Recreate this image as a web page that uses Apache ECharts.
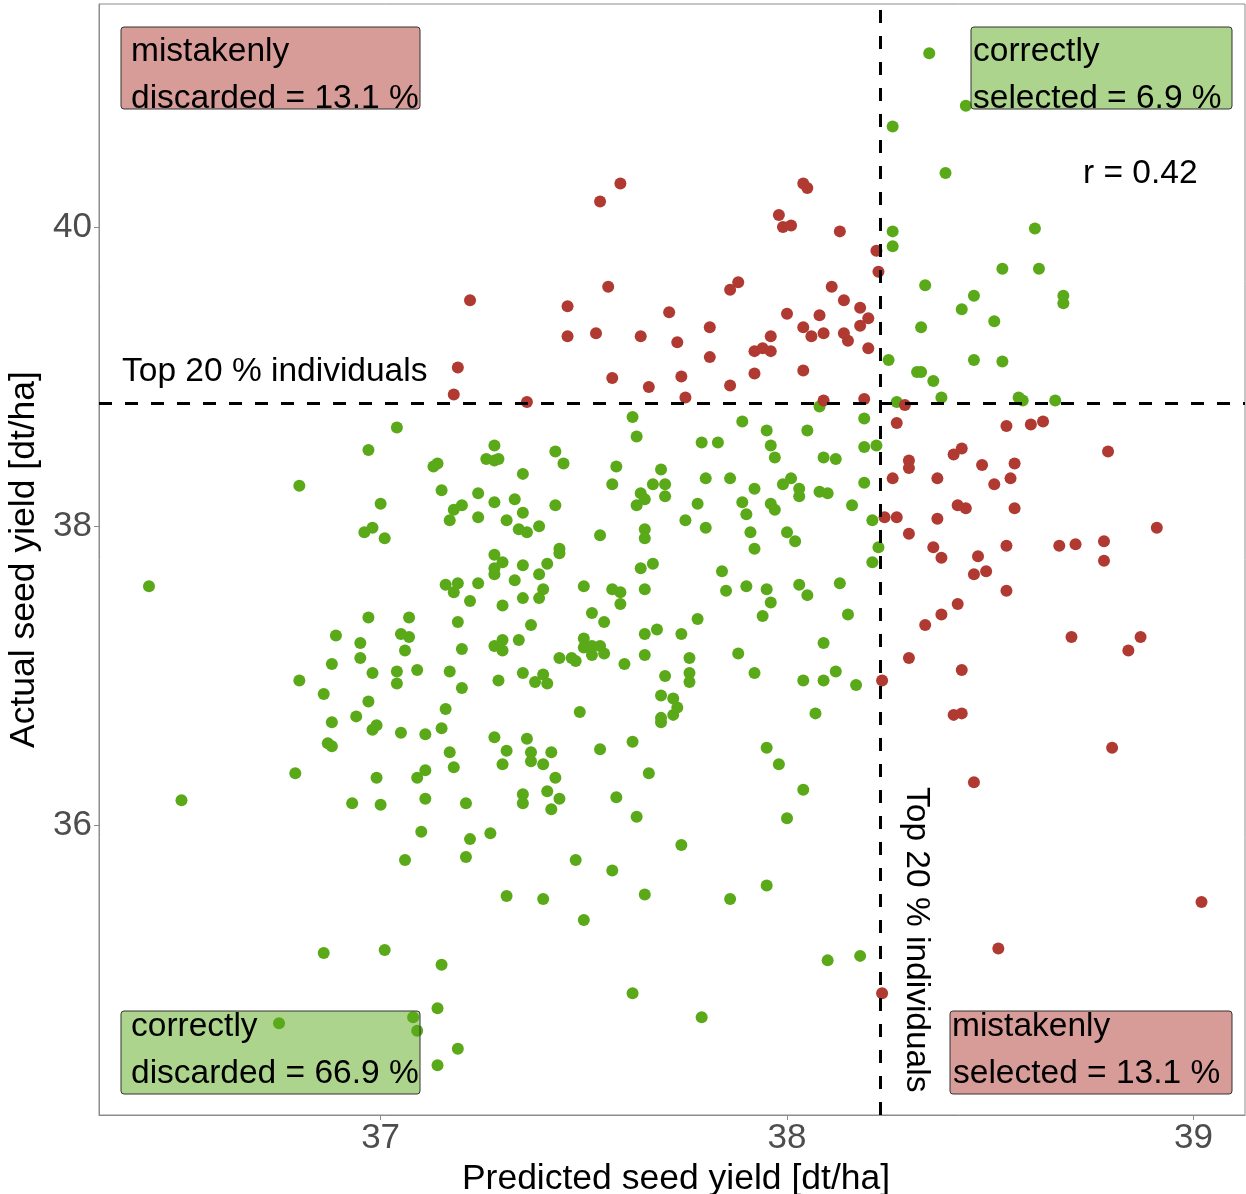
<!DOCTYPE html>
<html>
<head>
<meta charset="UTF-8">
<title>Predicted vs actual seed yield</title>
<script src="https://cdn.jsdelivr.net/npm/echarts@6.0.0/dist/echarts.min.js"></script>
<style>
	body { margin: 0; background: #fff; }
	#chart { width: 1246px; height: 1194px; }
</style>
</head>
<body>
	<div id="chart"></div>
	<script>
	// [predicted, actual] seed yield (dt/ha), grouped by selection outcome
	var mistakenlyDiscarded = [
		[37.59,40.29],[37.54,40.17],[37.56,39.60],[37.22,39.51],[37.46,39.47],[37.71,39.43],[37.46,39.27],[37.53,39.29],
		[37.64,39.27],[37.73,39.23],[37.19,39.06],[37.57,38.99],[37.74,39.00],[38.04,40.29],[38.05,40.26],[37.98,40.08],
		[37.99,40.00],[38.01,40.01],[38.13,39.97],[38.22,39.84],[38.225,39.70],[37.88,39.63],[37.86,39.58],[38.11,39.60],
		[38.14,39.51],[38.00,39.42],[38.08,39.41],[38.18,39.46],[38.20,39.39],[37.81,39.33],[38.04,39.33],[38.06,39.27],
		[38.09,39.29],[38.14,39.29],[38.15,39.24],[38.18,39.34],[37.96,39.27],[37.94,39.19],[37.96,39.17],[37.92,39.17],
		[37.81,39.13],[38.20,39.19],[37.92,39.02],[38.04,39.04],[37.18,38.88],[37.36,38.83],[37.66,38.93],[37.75,38.86],
		[37.86,38.94],[38.09,38.84],[38.19,38.85]
	];
	var mistakenlySelected = [
		[38.29,38.81],[38.27,38.69],[38.30,38.44],[38.30,38.39],[38.43,38.52],[38.41,38.48],[38.26,38.32],[38.37,38.32],
		[38.42,38.14],[38.44,38.12],[38.24,38.06],[38.27,38.06],[38.37,38.05],[38.30,37.95],[38.36,37.86],[38.38,37.79],
		[38.42,37.48],[38.38,37.41],[38.34,37.34],[38.30,37.12],[38.43,37.04],[38.234,36.97],[38.41,36.74],[38.43,36.75],
		[38.234,34.88],[38.54,38.67],[38.60,38.68],[38.63,38.70],[38.79,38.50],[38.48,38.41],[38.56,38.42],[38.51,38.28],
		[38.55,38.32],[38.56,38.12],[38.91,37.99],[38.54,37.87],[38.67,37.87],[38.71,37.88],[38.78,37.90],[38.78,37.77],
		[38.47,37.80],[38.46,37.68],[38.49,37.70],[38.54,37.57],[38.70,37.26],[38.87,37.26],[38.84,37.17],[38.80,36.52],
		[38.46,36.29],[39.02,35.49],[38.52,35.18]
	];
	var correctlySelected = [
		[38.35,41.16],[38.44,40.81],[38.26,40.67],[38.39,40.36],[38.26,39.97],[38.26,39.87],[38.34,39.61],[38.43,39.45],
		[38.33,39.33],[38.25,39.11],[38.46,39.11],[38.32,39.03],[38.33,39.03],[38.36,38.97],[38.61,39.99],[38.53,39.72],
		[38.62,39.72],[38.46,39.54],[38.68,39.54],[38.68,39.49],[38.51,39.37],[38.53,39.10],[38.38,38.86],[38.27,38.83],
		[38.57,38.86],[38.58,38.84],[38.66,38.84]
	];
	var correctlyDiscarded = [
		[38.08,38.80],[38.19,38.72],[37.89,38.70],[37.95,38.64],[38.05,38.64],[37.79,38.56],[37.83,38.56],[37.96,38.54],
		[37.97,38.46],[38.09,38.46],[38.12,38.45],[38.19,38.53],[38.22,38.54],[37.80,38.32],[37.86,38.32],[37.92,38.25],
		[37.99,38.28],[38.01,38.32],[38.03,38.25],[38.03,38.20],[38.08,38.23],[38.10,38.22],[38.19,38.29],[37.78,38.15],
		[37.89,38.16],[37.90,38.08],[37.96,38.15],[37.97,38.11],[38.16,38.14],[37.75,38.04],[37.80,37.99],[38.21,38.04],
		[37.91,37.96],[38.00,37.96],[38.02,37.90],[37.92,37.85],[38.225,37.86],[38.21,37.76],[37.84,37.70],[37.85,37.57],
		[37.90,37.60],[37.95,37.58],[37.96,37.49],[38.03,37.61],[38.05,37.54],[38.13,37.62],[37.94,37.40],[38.15,37.41],
		[37.78,37.38],[37.74,37.28],[38.09,37.22],[37.88,37.15],[37.76,37.12],[37.76,37.02],[37.76,36.96],[37.92,37.02],
		[38.04,36.97],[38.09,36.97],[38.12,37.03],[38.17,36.94],[38.07,36.75],[37.95,36.52],[37.98,36.41],[38.04,36.24],
		[38.00,36.05],[37.74,35.87],[37.95,35.60],[37.86,35.51],[38.10,35.10],[38.18,35.13],[37.79,34.72],
		[37.17,36.49],[37.31,36.50],[37.37,36.49],[37.42,36.49],[37.54,36.51],[37.30,36.41],[37.37,36.43],[37.40,36.41],
		[37.18,36.39],[37.11,36.37],[37.09,36.32],[37.43,36.32],[37.66,36.35],[37.11,36.18],[37.21,36.15],[37.35,36.21],
		[37.35,36.15],[37.41,36.23],[37.44,36.18],[37.42,36.11],[37.58,36.19],[37.63,36.06],[37.10,35.96],[37.22,35.91],
		[37.27,35.95],[37.06,35.77],[37.21,35.79],[37.48,35.77],[37.57,35.70],[37.31,35.53],[37.40,35.51],[37.65,35.54],
		[37.50,35.37],[37.01,35.17],[37.15,35.07],[37.62,34.88],[37.14,34.78],[37.08,34.72],[37.09,34.63],[37.19,34.51],
		[37.14,34.40],
		[36.79,36.35],[36.99,36.32],[36.51,36.17],[36.93,36.15],[37.00,36.14],[36.86,35.15],[36.75,34.68],
		[36.97,38.51],[36.80,38.27],[37.00,38.15],[36.96,37.96],[36.98,37.99],[37.01,37.92],[36.43,37.60],[36.97,37.39],
		[36.89,37.27],[36.95,37.22],[36.95,37.12],[36.88,37.08],[36.98,37.02],[36.80,36.97],[36.86,36.88],[36.97,36.83],
		[36.94,36.73],[36.88,36.69],[36.98,36.64],[36.99,36.67],[36.87,36.55],[36.88,36.53],
		[37.04,38.66],[37.62,38.73],[37.63,38.60],[37.28,38.54],[37.26,38.45],[37.28,38.44],[37.29,38.45],[37.43,38.50],
		[37.45,38.42],[37.13,38.40],[37.14,38.42],[37.35,38.35],[37.58,38.40],[37.57,38.28],[37.69,38.38],[37.15,38.24],
		[37.24,38.22],[37.28,38.16],[37.33,38.18],[37.43,38.14],[37.20,38.14],[37.18,38.11],[37.17,38.04],[37.24,38.06],
		[37.35,38.09],[37.31,38.04],[37.34,37.98],[37.36,37.96],[37.39,38.00],[37.64,38.22],[37.67,38.28],[37.70,38.28],
		[37.63,38.14],[37.65,38.18],[37.70,38.20],[37.54,37.94],[37.65,37.98],[37.65,37.92],[37.44,37.85],[37.44,37.82],
		[37.28,37.81],[37.30,37.76],[37.28,37.72],[37.28,37.68],[37.35,37.74],[37.41,37.75],[37.39,37.68],[37.33,37.64],
		[37.64,37.72],[37.67,37.75],[37.16,37.61],[37.19,37.62],[37.18,37.56],[37.24,37.62],[37.22,37.50],[37.50,37.60],
		[37.57,37.58],[37.59,37.56],[37.65,37.58],[37.59,37.48],[37.35,37.52],[37.39,37.52],[37.40,37.58],[37.30,37.47],
		[37.07,37.39],[37.19,37.36],[37.37,37.34],[37.52,37.42],[37.55,37.36],[37.05,37.28],[37.07,37.26],[37.06,37.17],
		[37.20,37.18],[37.28,37.20],[37.30,37.24],[37.30,37.17],[37.34,37.24],[37.50,37.25],[37.50,37.19],[37.52,37.14],
		[37.52,37.20],[37.54,37.20],[37.55,37.15],[37.44,37.12],[37.47,37.12],[37.48,37.10],[37.65,37.28],[37.68,37.31],
		[37.65,37.14],[37.60,37.08],[37.04,37.03],[37.04,36.95],[37.09,37.04],[37.17,37.03],[37.20,36.92],[37.29,36.97],
		[37.35,37.02],[37.38,36.96],[37.40,37.01],[37.41,36.95],[37.70,37.00],[37.69,36.87],[37.72,36.85],[37.73,36.79],
		[37.72,36.74],[37.69,36.72],[37.69,36.69],[37.16,36.78],[37.49,36.76],[37.05,36.62],[37.11,36.61],[37.15,36.65],
		[37.28,36.59],[37.36,36.58],[37.62,36.56]
	];

	var xTicks = [37, 38, 39];
	var yTicks = [36, 38, 40];
	var cutPredicted = 38.231; // top 20 % by prediction
	var cutActual = 38.818;    // top 20 % by actual yield

	var GREEN = '#5aa919';
	var RED = '#b03a31';
	var FONT = 'Liberation Sans';

	// boxes + text, in pixels
	function box(x, y, w, h, fill) {
	    return {
		type : 'rect',
		z : 20,
		shape : { x : x, y : y, width : w, height : h, r : 3 },
		style : { fill : fill, stroke : '#333', lineWidth : 1 }
	    };
	}
	function label(x, y, text, rot) {
	    return {
		type : 'text',
		z : 21,
		x : x,
		y : y,
		rotation : rot || 0,
		style : {
		    text : text,
		    fill : '#000',
		    font : '33.5px "' + FONT + '"',
		    align : 'left',
		    verticalAlign : 'middle'
		}
	    };
	}
	function dots(data, color) {
	    return {
		type : 'scatter',
		data : data,
		symbolSize : 12,
		itemStyle : { color : color, opacity : 1 },
		silent : true
	    };
	}

	var chart = echarts.init(document.getElementById('chart'));
	var redSel = dots(mistakenlySelected, RED);
	// dashed threshold lines sit above the points
	redSel.markLine = {
	    silent : true,
	    symbol : 'none',
	    label : { show : false },
	    lineStyle : { color : '#000', width : 3, type : [ 13, 13 ] },
	    data : [ { xAxis : cutPredicted }, { yAxis : cutActual } ]
	};
	var option = {
	    animation : false,
	    textStyle : { fontFamily : FONT },
	    grid : {
		left : 99,
		top : 4,
		right : 1,
		bottom : 79,
		containLabel : false,
		outerBoundsMode : 'none',
		show : true,
		borderColor : '#8c8c8c',
		borderWidth : 1
	    },
	    xAxis : {
		type : 'value',
		min : 36.307,
		max : 39.127,
		name : 'Predicted seed yield [dt/ha]',
		nameLocation : 'middle',
		nameGap : 42,
		nameTextStyle : { fontSize : 35.5, color : '#000', fontFamily : FONT, padding : [ 0, 0, 0, 8 ] },
		splitLine : { show : false },
		axisLine : { show : true, lineStyle : { color : '#8c8c8c' } },
		axisTick : { show : true, customValues : xTicks, length : 5, lineStyle : { color : '#8c8c8c' } },
		axisLabel : { customValues : xTicks, fontSize : 35, color : '#4d4d4d', margin : 6, fontFamily : FONT }
	    },
	    yAxis : {
		type : 'value',
		min : 34.067,
		max : 41.489,
		name : 'Actual seed yield [dt/ha]',
		nameLocation : 'middle',
		nameGap : 52,
		nameTextStyle : { fontSize : 35.5, color : '#000', fontFamily : FONT },
		splitLine : { show : false },
		axisLine : { show : true, lineStyle : { color : '#8c8c8c' } },
		axisTick : { show : true, customValues : yTicks, length : 5, lineStyle : { color : '#8c8c8c' } },
		axisLabel : { customValues : yTicks, fontSize : 35, color : '#4d4d4d', margin : 7, fontFamily : FONT }
	    },
	    series : [
		dots(correctlyDiscarded, GREEN),
		dots(correctlySelected, GREEN),
		dots(mistakenlyDiscarded, RED),
		redSel
	    ],
	    graphic : [
		box(121, 27, 299, 82, 'rgba(176,58,49,0.5)'),
		label(131, 52, 'mistakenly'),
		label(131, 99, 'discarded = 13.1 %'),
		box(971, 27, 261, 82, 'rgba(90,169,25,0.5)'),
		label(973, 52, 'correctly'),
		label(973, 99, 'selected = 6.9 %'),
		box(121, 1011, 299, 83, 'rgba(90,169,25,0.5)'),
		label(131, 1027, 'correctly'),
		label(131, 1074, 'discarded = 66.9 %'),
		box(950, 1011, 282, 83, 'rgba(176,58,49,0.5)'),
		label(952, 1027, 'mistakenly'),
		label(953, 1074, 'selected = 13.1 %'),
		label(122, 372, 'Top 20 % individuals'),
		label(1083, 174, 'r = 0.42'),
		label(916, 787, 'Top 20 % individuals', -Math.PI / 2)
	    ]
	};
	chart.setOption(option);
    </script>
</body>
</html>
